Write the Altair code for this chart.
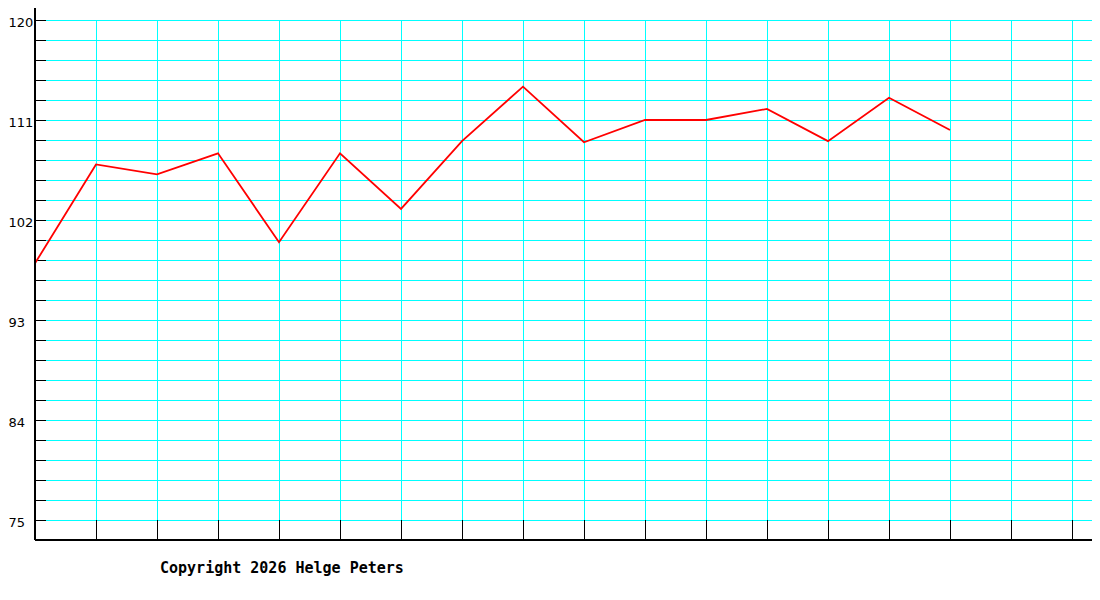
import altair as alt
import pandas as pd

# ---- data ----
periods = list(range(16))
values = [98.1, 107.0, 106.1, 108.0, 100.0, 108.0, 103.0, 109.1,
          114.0, 109.0, 111.0, 111.0, 112.0, 109.1, 113.0, 110.1]
y_labels = [75, 84, 93, 102, 111, 120]
y_grid = [round(75 + 1.8 * k, 2) for k in range(26)]
x_grid = list(range(1, 18))
copyright_text = ["Copyright 2026 Helge Peters"]

W, H = 1057, 532
xs = alt.Scale(domain=[0, W / 61], nice=False, zero=False)
ys = alt.Scale(domain=[73.2, 121.08], nice=False, zero=False)

yaxis = alt.Axis(values=y_labels, title=None, labelAlign="left", labelPadding=27,
                 labelBaseline="middle", labelOffset=2.5, labelFont="DejaVu Sans",
                 labelFontSize=13, labelColor="black", ticks=False, tickSize=0,
                 domain=False, grid=False, labelFlush=False)

line_df = pd.DataFrame({"t": periods, "v": values})
hgrid_df = pd.DataFrame({"g": y_grid})
vgrid_df = pd.DataFrame({"i": x_grid})
text_df = pd.DataFrame({"s": copyright_text})

hgrid = alt.Chart(hgrid_df).mark_rule(color="#00FFFF", strokeWidth=1, yOffset=0.5).encode(
    y=alt.Y("g:Q", scale=ys, axis=yaxis),
    x=alt.value(11), x2=alt.value(W))
yticks = alt.Chart(hgrid_df).mark_rule(color="black", strokeWidth=1, yOffset=0.5).encode(
    y=alt.Y("g:Q", scale=ys, axis=yaxis),
    x=alt.value(0), x2=alt.value(11))
vgrid = alt.Chart(vgrid_df).mark_rule(color="#00FFFF", strokeWidth=1, xOffset=0.5).encode(
    x=alt.X("i:Q", scale=xs, axis=None),
    y=alt.datum(120), y2=alt.datum(75))
xticks = alt.Chart(vgrid_df).mark_rule(color="black", strokeWidth=1, xOffset=0.5).encode(
    x=alt.X("i:Q", scale=xs, axis=None),
    y=alt.datum(75), y2=alt.value(H))
left_axis = alt.Chart(text_df).mark_rule(color="black", strokeWidth=2).encode(
    x=alt.value(0), y=alt.value(0), y2=alt.value(H))
bottom_axis = alt.Chart(text_df).mark_rule(color="black", strokeWidth=2).encode(
    y=alt.value(H), x=alt.value(0), x2=alt.value(W))
line = alt.Chart(line_df).mark_line(color="#FF0000", strokeWidth=1.8).encode(
    x=alt.X("t:Q", scale=xs, axis=None),
    y=alt.Y("v:Q", scale=ys, axis=yaxis))
text = alt.Chart(text_df).mark_text(
    font="DejaVu Sans Mono", fontSize=15, fontWeight="bold", align="left",
    baseline="alphabetic", color="black", clip=False).encode(
    text="s:N", x=alt.value(125), y=alt.value(565))

chart = alt.layer(hgrid, yticks, vgrid, xticks, line, left_axis, bottom_axis, text).properties(
    width=W, height=H,
    autosize=alt.AutoSizeParams(type="none"),
    padding={"left": 27, "top": 0, "right": 0, "bottom": 52},
    background="white",
).configure_view(stroke=None)

chart.save("out.html", embed_options={"renderer": "svg", "actions": False})
